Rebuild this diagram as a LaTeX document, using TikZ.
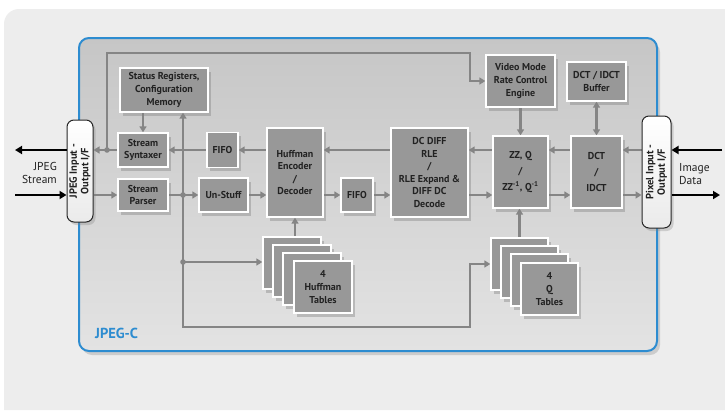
\documentclass[tikz,border=0pt]{standalone}
\usepackage{fontspec}
\setmainfont{PT Sans}
\usetikzlibrary{arrows.meta,shadows,calc}
\definecolor{bggray}{HTML}{EDEDED}
\definecolor{blueC}{RGB}{45,140,208}
\definecolor{boxgray}{HTML}{989898}
\definecolor{txt}{HTML}{222222}
\definecolor{conngray}{HTML}{858585}
\definecolor{maintop}{HTML}{C6C6C6}
\definecolor{mainbot}{HTML}{E3E3E3}
\pgfdeclarelayer{back}
\pgfdeclarelayer{mid}
\pgfsetlayers{back,mid,main}
\tikzset{
  blk/.style={draw=white, line width=1.3pt, fill=boxgray, text=txt,
    font=\fontsize{10}{12.6}\selectfont\bfseries, align=center, inner sep=1pt,
    drop shadow={shadow xshift=2.5pt, shadow yshift=-3.5pt, opacity=0.4}},
  conn/.style={draw=conngray, line width=2.2pt},
  arr/.style={conn, -{Triangle[length=6pt,width=7pt]}},
  darr/.style={conn, {Triangle[length=6pt,width=7pt]}-{Triangle[length=6pt,width=7pt]}},
  bigarr/.style={draw=black, line width=2.6pt, -{Triangle[length=7pt,width=8pt]}},
  ifbox/.style={draw=black!85, line width=1pt, rounded corners=7pt,
    top color=white, bottom color=black!8,
    drop shadow={shadow xshift=2.5pt, shadow yshift=-3pt, opacity=0.3}},
  iflbl/.style={rotate=90, font=\fontsize{10.5}{11.5}\selectfont\bfseries, text=txt, align=center, inner sep=0pt},
  outlbl/.style={font=\fontsize{11.5}{13.5}\selectfont, text=txt, inner sep=0pt},
  jdot/.style={fill=conngray},
}
\begin{document}
\begin{tikzpicture}[x=1pt,y=-1pt]
\useasboundingbox (0,0) rectangle (725,410);
\begin{pgfonlayer}{back}
\fill[white] (0,0) rectangle (725,410);
\fill[bggray] (725,410) -- (4,410) [rounded corners=15pt] -- (4,9) [sharp corners] -- (725,9) -- cycle;
\node[draw=blueC, line width=2pt, rounded corners=10pt, top color=maintop, bottom color=mainbot,
  minimum width=578pt, minimum height=313pt, inner sep=0pt,
  drop shadow={shadow xshift=3pt, shadow yshift=-4pt, opacity=0.3}] (main) at (368,194.5) {};
\end{pgfonlayer}

% interface blocks
\node[ifbox, minimum width=26pt, minimum height=102pt] (jif) at (80,171) {};
\node[iflbl] (jiflbl) at (jif.center) {JPEG Input -\\Output I/F};
\node[ifbox, minimum width=29pt, minimum height=112pt] (pif) at (656.5,172) {};
\node[iflbl] (piflbl) at (pif.center) {Pixel Input -\\Output I/F};

% blocks
\node[blk, minimum width=88pt, minimum height=44pt] (status) at (164,90) {Status Registers,\\Configuration\\Memory};
\node[blk, minimum width=50pt, minimum height=34pt] (syntax) at (143,150) {Stream\\Syntaxer};
\node[blk, minimum width=50pt, minimum height=32pt] (parser) at (143,195) {Stream\\Parser};
\node[blk, minimum width=31pt, minimum height=35pt] (fifo1) at (222.5,150) {FIFO};
\node[blk, minimum width=49pt, minimum height=34pt] (unstuff) at (223.5,195) {Un-Stuff};
\node[blk, minimum width=56pt, minimum height=89pt] (huff) at (295,172.5) {Huffman\\Encoder\\/\\Decoder};
\node[blk, minimum width=32pt, minimum height=34pt] (fifo2) at (357,195) {FIFO};
\node[blk, minimum width=77pt, minimum height=89pt] (dcdiff) at (429.5,172.5) {DC DIFF\\RLE\\/\\RLE Expand \&\\DIFF DC\\Decode};
\node[blk, minimum width=55pt, minimum height=72pt] (zz) at (520.5,172) {ZZ, Q\\[3pt]/\\[3pt]ZZ\textsuperscript{-1}, Q\textsuperscript{-1}};
\node[blk, minimum width=51pt, minimum height=72pt] (dct) at (596.5,172) {DCT\\[3pt]/\\[3pt]IDCT};
\node[blk, minimum width=69pt, minimum height=52pt] (video) at (520.5,81) {Video Mode\\Rate Control\\Engine};
\node[blk, minimum width=59pt, minimum height=39pt] (buffer) at (596.5,81.5) {DCT / IDCT\\Buffer};

% table stacks
\node[blk, minimum width=58pt, minimum height=52pt] (ht1) at (292,263) {};
\node[blk, minimum width=58pt, minimum height=52pt] (ht2) at (302,271) {};
\node[blk, minimum width=58pt, minimum height=52pt] (ht3) at (312,279) {};
\node[blk, minimum width=58pt, minimum height=52pt] (ht4) at (323,287) {4\\Huffman\\Tables};
\node[blk, minimum width=57pt, minimum height=52pt] (qt1) at (519.5,264) {};
\node[blk, minimum width=57pt, minimum height=52pt] (qt2) at (529.5,272) {};
\node[blk, minimum width=57pt, minimum height=52pt] (qt3) at (539.5,280) {};
\node[blk, minimum width=57pt, minimum height=52pt] (qt4) at (549.5,289) {4\\Q\\Tables};

% labels
\node[font=\fontsize{14.5}{16}\selectfont\bfseries, text=blueC, anchor=west, inner sep=0pt] (jpegc) at (95,333) {JPEG-C};
\node[outlbl, anchor=east, align=right] (jstream) at (57,173) {JPEG\\Stream};
\node[outlbl, anchor=west, align=left] (idata) at (679,174) {Image\\Data};

% coordinates
\coordinate (ytop) at (0,150);
\coordinate (ybot) at (0,195);
\coordinate (j1) at (107,150);
\coordinate (tl) at (107,53);
\coordinate (tr) at (470,53);
\coordinate (j2) at (183,195);
\coordinate (j3) at (183,262);
\coordinate (bl) at (183,327);
\coordinate (br) at (470,327);
\coordinate (jl1) at (15,150);
\coordinate (jl2) at (15,195);
\coordinate (ir1) at (722,150);
\coordinate (ir2) at (720,195);

\begin{pgfonlayer}{mid}
% upper path (right to left)
\draw[arr] (ytop -| pif.west) -- (ytop -| dct.east);
\draw[arr] (ytop -| dct.west) -- (ytop -| zz.east);
\draw[arr] (ytop -| zz.west) -- (ytop -| dcdiff.east);
\draw[arr] (ytop -| dcdiff.west) -- (ytop -| huff.east);
\draw[arr] (ytop -| huff.west) -- (fifo1.east);
\draw[arr] (fifo1.west) -- (syntax.east);
\draw[arr] (syntax.west) -- (ytop -| jif.east);
% lower path (left to right)
\draw[arr] (ybot -| jif.east) -- (parser.west);
\draw[arr] (parser.east) -- (unstuff.west);
\draw[arr] (unstuff.east) -- (ybot -| huff.west);
\draw[arr] (ybot -| huff.east) -- (fifo2.west);
\draw[arr] (fifo2.east) -- (ybot -| dcdiff.west);
\draw[arr] (ybot -| dcdiff.east) -- (ybot -| zz.west);
\draw[arr] (ybot -| zz.east) -- (ybot -| dct.west);
\draw[arr] (ybot -| dct.east) -- (ybot -| pif.west);
% verticals
\draw[arr] (syntax.north |- status.south) -- (syntax.north);
\draw[arr] (video.south) -- (zz.north);
\draw[darr] (buffer.south) -- (dct.north);
\draw[arr] (ht1.north -| huff.south) -- (huff.south);
\draw[arr] (qt1.north) -- (qt1.north |- zz.south);
% loops
\draw[arr] (j1) -- (tl) -- (tr) |- (video.west);
\draw[arr] (j2) -- (j2 |- status.south);
\draw[arr] (j2) -- (bl) -- (br) |- (qt1.west);
\draw[arr] (j3) -- (j3 -| ht1.west);
\fill[jdot] (j1) circle (2.8pt);
\fill[jdot] (j2) circle (2.8pt);
\fill[jdot] (j3) circle (2.8pt);
\end{pgfonlayer}

% external arrows
\draw[bigarr] (jif.west |- ytop) -- (jl1);
\draw[bigarr] (jl2) -- (jif.west |- ybot);
\draw[bigarr] (ir1) -- (pif.east |- ytop);
\draw[bigarr] (pif.east |- ybot) -- (ir2);
\end{tikzpicture}
\end{document}
